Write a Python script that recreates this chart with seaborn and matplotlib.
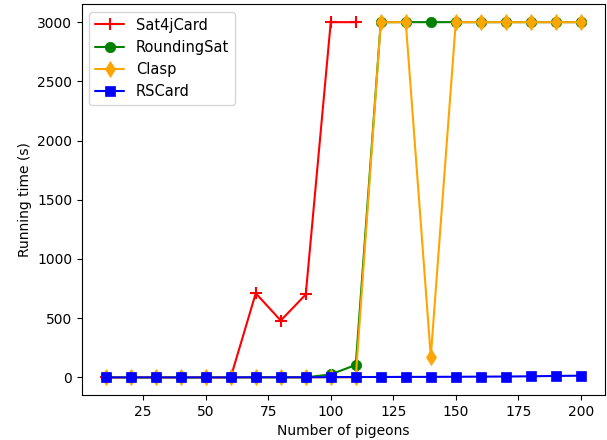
import matplotlib
matplotlib.use("Agg")
import matplotlib.pyplot as plt
import pandas as pd
import seaborn as sns

pigeons = [10, 20, 30, 40, 50, 60, 70, 80, 90, 100, 110, 120, 130, 140, 150, 160, 170, 180, 190, 200]

sat4j_x = [10, 20, 30, 40, 50, 60, 70, 80, 90, 100, 110]
sat4j = [0, 0, 0, 0, 0, 0, 710, 480, 700, 3000, 3000]

roundingsat = [0, 0, 0, 0, 0, 0, 0, 0, 0, 25, 105, 3000, 3000, 3000, 3000, 3000, 3000, 3000, 3000, 3000]
clasp = [0, 0, 0, 0, 0, 0, 0, 0, 0, 0, 0, 3000, 3000, 175, 3000, 3000, 3000, 3000, 3000, 3000]
rscard = [0, 0, 0, 0, 0, 0, 1, 1, 1, 2, 3, 3, 4, 4, 5, 6, 7, 9, 12, 14]

names = ["Sat4jCard", "RoundingSat", "Clasp", "RSCard"]
colors = ["red", "green", "orange", "blue"]
markers = ["+", "o", "d", "s"]
marker_sizes = [8, 7.5, 8.5, 7]

frames = [
    pd.DataFrame({"pigeons": sat4j_x, "time": sat4j, "solver": "Sat4jCard"}),
    pd.DataFrame({"pigeons": pigeons, "time": roundingsat, "solver": "RoundingSat"}),
    pd.DataFrame({"pigeons": pigeons, "time": clasp, "solver": "Clasp"}),
    pd.DataFrame({"pigeons": pigeons, "time": rscard, "solver": "RSCard"}),
]
df = pd.concat(frames, ignore_index=True)

sns.set_style("ticks", {
    "axes.edgecolor": "black",
    "text.color": "black",
    "axes.labelcolor": "black",
    "xtick.color": "black",
    "ytick.color": "black",
})
plt.rcParams["font.family"] = ["DejaVu Sans"]

fig, ax = plt.subplots(figsize=(6.07, 4.40), dpi=100)
for name, color, marker, ms in zip(names, colors, markers, marker_sizes):
    sub = df[df["solver"] == name]
    sns.lineplot(
        data=sub,
        x="pigeons",
        y="time",
        ax=ax,
        color=color,
        marker=marker,
        markersize=ms,
        markeredgecolor=color,
        markeredgewidth=1.5 if marker == "+" else 0.5,
        linewidth=1.5,
        label=name,
    )

ax.set_xlabel("Number of pigeons")
ax.set_ylabel("Running time (s)")
ax.set_xlim(0.5, 209.5)
ax.set_ylim(-150, 3150)
ax.set_xticks([25, 50, 75, 100, 125, 150, 175, 200])
ax.set_yticks([0, 500, 1000, 1500, 2000, 2500, 3000])
ax.legend(loc="upper left", fontsize=10.5)
for side in ["top", "right"]:
    ax.spines[side].set_visible(True)

fig.subplots_adjust(left=0.135, right=0.996, top=0.99, bottom=0.102)
fig.savefig("out.png", dpi=100)
